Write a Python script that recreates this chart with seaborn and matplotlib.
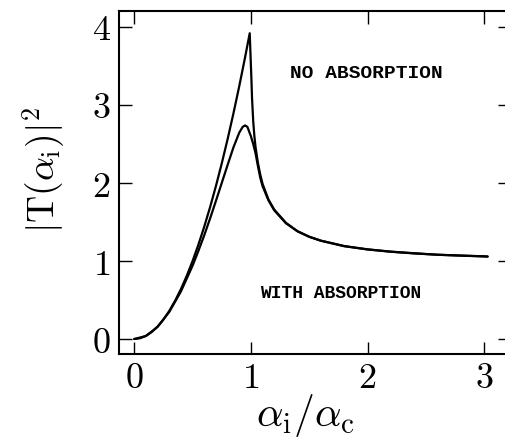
import matplotlib
matplotlib.use("Agg")
import matplotlib.pyplot as plt
import seaborn as sns
import pandas as pd

# --- data ---
x_no = [0.0, 0.05, 0.1, 0.15, 0.2, 0.25, 0.3, 0.35, 0.4, 0.45, 0.5, 0.55, 0.6,
        0.65, 0.7, 0.75, 0.8, 0.85, 0.9, 0.95, 0.99, 1.005, 1.01, 1.02, 1.03,
        1.04, 1.06, 1.08, 1.1, 1.15, 1.2, 1.3, 1.4, 1.5, 1.6, 1.8, 2.0, 2.2,
        2.4, 2.6, 2.8, 3.0, 3.03]
t_no = [0.0, 0.01, 0.04, 0.09, 0.16, 0.25, 0.36, 0.49, 0.64, 0.81, 1.0, 1.21,
        1.44, 1.69, 1.96, 2.25, 2.56, 2.89, 3.24, 3.61, 3.92, 3.31, 3.08, 2.79,
        2.60, 2.46, 2.26, 2.11, 1.99, 1.79, 1.66, 1.49, 1.38, 1.31, 1.26, 1.19,
        1.15, 1.12, 1.10, 1.08, 1.07, 1.06, 1.058]

x_abs = [0.0, 0.1, 0.2, 0.3, 0.4, 0.5, 0.55, 0.6, 0.65, 0.7, 0.75, 0.8, 0.85,
         0.9, 0.93, 0.95, 0.97, 1.0, 1.02, 1.04, 1.06, 1.08, 1.1, 1.15, 1.2,
         1.3, 1.4, 1.5, 1.6, 1.8, 2.0, 2.2, 2.4, 2.6, 2.8, 3.0, 3.03]
t_abs = [0.0, 0.039, 0.156, 0.347, 0.61, 0.94, 1.13, 1.33, 1.545, 1.77, 2.0,
         2.23, 2.455, 2.645, 2.72, 2.738, 2.72, 2.60, 2.50, 2.38, 2.22, 2.07,
         1.96, 1.78, 1.65, 1.485, 1.382, 1.312, 1.261, 1.192, 1.148, 1.119,
         1.097, 1.081, 1.069, 1.059, 1.057]

x_ticks = [0, 1, 2, 3]
y_ticks = [0, 1, 2, 3, 4]
x_label = r"$\alpha_{\rm i}/\alpha_{\rm c}$"
y_label = r"$|{\rm T}(\alpha_{\rm i})|^2$"
label_no = "NO ABSORPTION"
label_abs = "WITH ABSORPTION"

df = pd.concat([
    pd.DataFrame({"x": x_no, "T": t_no, "case": "no"}),
    pd.DataFrame({"x": x_abs, "T": t_abs, "case": "abs"}),
], ignore_index=True)

sns.set_theme(style="ticks")
plt.rcParams["mathtext.fontset"] = "cm"
plt.rcParams["font.family"] = ["DejaVu Sans"]

fig = plt.figure(figsize=(5.05, 4.43), dpi=100)
fig.patch.set_facecolor("white")
ax = fig.add_axes([119 / 505, 89 / 443, (510 - 119) / 505, (354 - 11) / 443])
ax.set_facecolor("white")

sns.lineplot(data=df, x="x", y="T", hue="case", palette={"no": "black", "abs": "black"},
             estimator=None, sort=False, legend=False, linewidth=1.6, ax=ax)

ax.set_xlim(-0.131, 3.222)
ax.set_ylim(-0.192, 4.205)
ax.set_xticks(x_ticks)
ax.set_xticklabels([rf"${v}$" for v in x_ticks])
ax.set_yticks(y_ticks)
ax.set_yticklabels([rf"${v}$" for v in y_ticks])
ax.tick_params(direction="in", top=True, right=True, length=9, width=1.0,
               labelsize=26, color="black", labelcolor="black")
ax.tick_params(axis="x", pad=5)
ax.tick_params(axis="y", pad=6)
for s in ax.spines.values():
    s.set_visible(True)
    s.set_color("black")
    s.set_linewidth(1.5)

ax.set_xlabel(x_label, fontsize=30, color="black")
ax.xaxis.set_label_coords(0.478, -0.11)
ax.set_ylabel(y_label, fontsize=27, color="black")
ax.yaxis.set_label_coords(-0.133, 0.536)

ax.text(1.335, 3.40, label_no, fontsize=14, fontweight="bold",
        family=["Liberation Mono"], ha="left", va="center", color="black")
ax.text(1.078, 0.583, label_abs, fontsize=13, fontweight="bold",
        family=["Liberation Mono"], ha="left", va="center", color="black")

fig.savefig("out.png", dpi=100, facecolor="white")
